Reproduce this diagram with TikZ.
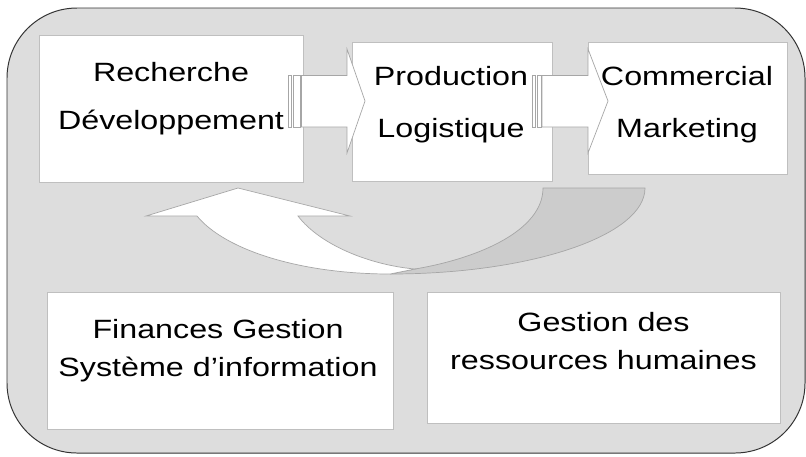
\documentclass[tikz,border=0pt]{standalone}
\usepackage{fontspec}
\setmainfont{Liberation Sans}[FakeStretch=1.22]
\usepackage{xcolor}
\usepackage{tikz}
\usetikzlibrary{positioning}
\definecolor{fondGris}{HTML}{DDDDDD}
\definecolor{bandeGris}{HTML}{CCCCCC}
\definecolor{traitGris}{HTML}{A6A6A6}
\definecolor{bordBoite}{HTML}{BFBFBF}
\definecolor{cadre}{HTML}{333333}

\begin{document}
\begin{tikzpicture}[
    x=0.025cm, y=-0.025cm,
    boite/.style={
        rectangle,
        draw=bordBoite,
        fill=white,
        line width=0.6pt,
        inner sep=0pt,
    },
    texte/.style={align=center, inner sep=0pt, font=\fontsize{18.8}{37}\selectfont},
    texteSerre/.style={texte, font=\fontsize{18.8}{27}\selectfont},
    fleche/.style={draw=traitGris, fill=white, line width=0.5pt, line join=miter},
    bande/.style={draw=traitGris, fill=bandeGris, line width=0.5pt},
]
\useasboundingbox (0,0) rectangle (806,456);

% cadre general
\draw[draw=cadre, fill=fondGris, line width=0.7pt, rounded corners=1.75cm] (7,8) rectangle (805,453);

\node[boite, minimum width=6.6cm,   minimum height=3.675cm] (rd)   at (171,108.5) {};
\node[boite, minimum width=5cm,     minimum height=3.475cm] (prod) at (452,111.5) {};
\node[boite, minimum width=4.975cm, minimum height=3.3cm]   (comm) at (687.5,108) {};
\node[boite, minimum width=8.65cm,  minimum height=3.425cm] (fin)  at (220,360.5) {};
\node[boite, minimum width=8.825cm, minimum height=3.275cm] (rh)   at (603.5,357.5) {};

\node[texte, font=\fontsize{18.8}{34}\selectfont] (rdTxt)   at (171,99)    {Recherche\\Développement};
\node[texte]                                      (prodTxt) at (451,105)   {Production\\Logistique};
\node[texte]                                      (commTxt) at (687,105)   {Commercial\\Marketing};
\node[texteSerre]                                 (finTxt)  at (218,350.5) {Finances Gestion\\Système d’information};
\node[texteSerre]                                 (rhTxt)   at (603.5,341.5) {Gestion des\\ressources humaines};

% fleche de retour
\draw[bande] (543,188) -- (645,188) .. controls (645,235.5) and (531,274) .. (390,274)
    -- (415,269) .. controls (480,258) and (543,230) .. (543,188) -- cycle;
\draw[fleche] (197,216) -- (146,216) -- (238,188) -- (350,216) -- (298,216)
    .. controls (320,245) and (370,265) .. (415,269) -- (390,274)
    .. controls (300,274) and (225,250) .. (197,216) -- cycle;

% fleches rayees
\draw[fleche] (288,75.5) rectangle (291.5,127);
\draw[fleche] (293,75.5) rectangle (300,127);
\draw[fleche] (301.5,75.5) -- (347,75.5) -- (347,49) -- (365,101) -- (347,153) -- (347,127) -- (301.5,127) -- cycle;

\draw[fleche] (532,75.5) rectangle (535.5,127);
\draw[fleche] (537,75.5) rectangle (541,127);
\draw[fleche] (542,75.5) -- (588,75.5) -- (588,49) -- (608,101) -- (588,153) -- (588,127) -- (542,127) -- cycle;

\end{tikzpicture}
\end{document}
